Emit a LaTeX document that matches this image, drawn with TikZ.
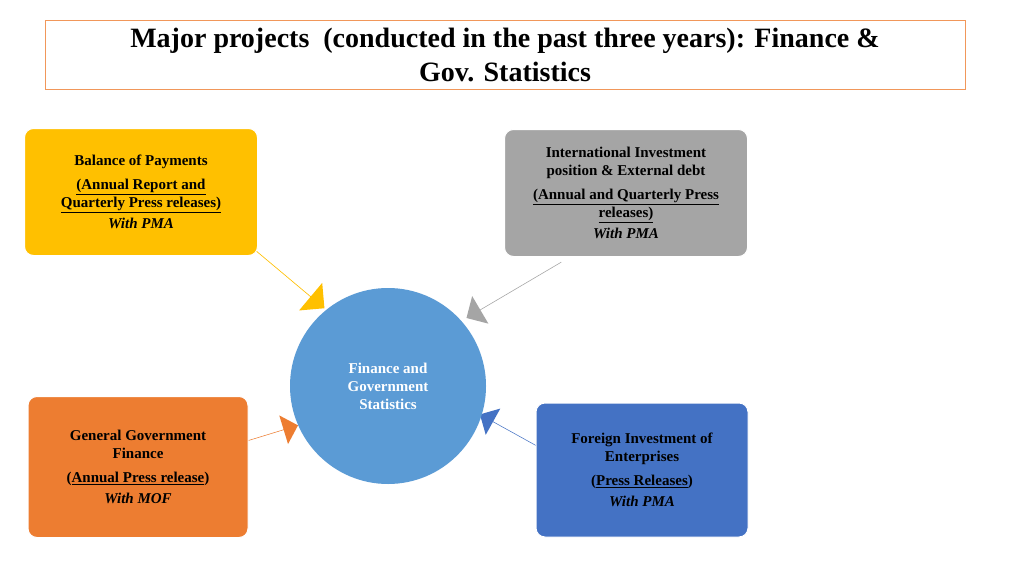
\documentclass[tikz,border=0pt]{standalone}
\usepackage{fontspec}
\setmainfont{Liberation Serif}
\usetikzlibrary{shapes.arrows}
\definecolor{cy}{HTML}{FFC000}
\definecolor{cg}{HTML}{A5A5A5}
\definecolor{co}{HTML}{ED7D31}
\definecolor{cb}{HTML}{4472C4}
\definecolor{cc}{HTML}{5B9BD5}
\begin{document}
\begin{tikzpicture}[x=1pt,y=-1pt,
  box/.style={draw=white,line width=1pt,rounded corners=9pt,inner sep=0pt,align=center,font=\fontsize{15}{18}\selectfont\bfseries},
  arr/.style={single arrow,draw=none,inner sep=0pt,single arrow head extend=11pt,single arrow tip angle=90,shape border uses incircle=false}]
\useasboundingbox[fill=white] (0,0) rectangle (1024,575);
\node[draw=co!80,line width=0.8pt,minimum width=920pt,minimum height=69pt,align=center,font=\fontsize{28}{34}\selectfont\bfseries] (title) at (505,54.5) {Major projects\ \ (conducted in the past three years): Finance \&\\Gov. Statistics};
\node[arr,fill=cy,minimum height=100pt,minimum width=36pt,rotate=-40] (a1) at (286,276) {};
\node[arr,fill=cg,minimum height=110pt,minimum width=32pt,rotate=210.5] (a2) at (514,290) {};
\node[arr,fill=co,minimum height=52pt,minimum width=30pt,rotate=17] (a3) at (273,433) {};
\node[arr,fill=cb,minimum height=64pt,minimum width=30pt,rotate=151] (a4) at (508,430) {};
\node[circle,fill=cc,minimum size=196pt,inner sep=0pt,text=white,align=center,font=\fontsize{15}{18}\selectfont\bfseries] (c) at (388,386) {Finance and\\Government\\Statistics};
\node[box,fill=cy,minimum width=233pt,minimum height=127pt] (b1) at (141,192) {Balance of Payments\\[6pt]\underline{(Annual Report and}\\\underline{Quarterly Press releases)}\\[3pt]\textit{With PMA}};
\node[box,fill=cg,minimum width=243pt,minimum height=127pt] (b2) at (626,193) {International Investment\\position \& External debt\\[6pt]\underline{(Annual and Quarterly Press}\\\underline{releases)}\\[3pt]\textit{With PMA}};
\node[box,fill=co,minimum width=220pt,minimum height=141pt] (b3) at (138,467) {General Government\\Finance\\[6pt](\underline{Annual Press release})\\[3pt]\textit{With MOF}};
\node[box,fill=cb,minimum width=212pt,minimum height=134pt] (b4) at (642,470) {Foreign Investment of\\Enterprises\\[6pt](\underline{Press Releases})\\[3pt]\textit{With PMA}};
\end{tikzpicture}
\end{document}
